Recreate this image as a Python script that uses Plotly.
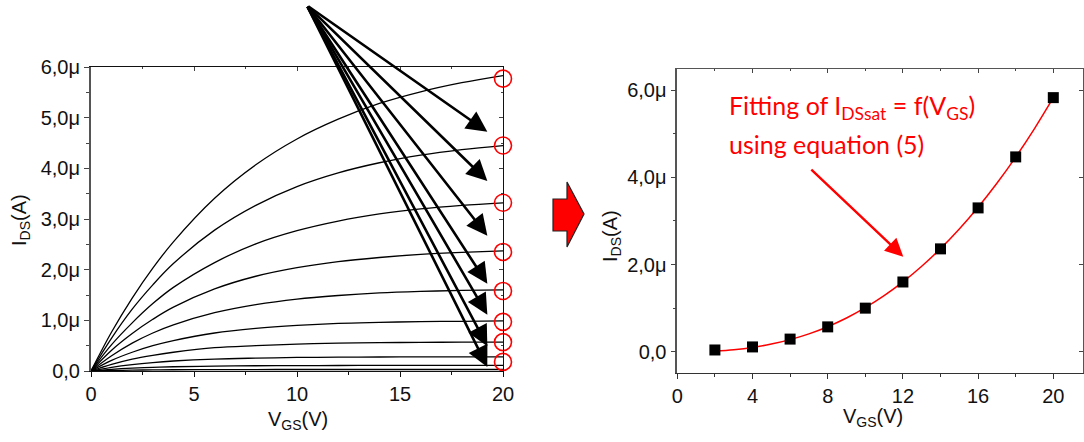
import plotly.graph_objects as go

# ---------------- data ----------------
# Left panel: output characteristics (I in µA) for 10 gate voltages
v_ds = [0, 1, 2, 3, 4, 6, 8, 10, 12, 14, 16, 18, 20]
curve_1 = [0, 0.77, 1.44, 2.03, 2.55, 3.41, 4.07, 4.58, 4.97, 5.28, 5.51, 5.69, 5.83]
curve_2 = [0, 0.65, 1.22, 1.70, 2.12, 2.78, 3.27, 3.64, 3.91, 4.11, 4.26, 4.37, 4.45]
curve_3 = [0, 0.52, 0.95, 1.33, 1.65, 2.14, 2.51, 2.77, 2.96, 3.10, 3.20, 3.27, 3.32]
curve_4 = [0, 0.41, 0.74, 1.02, 1.26, 1.62, 1.87, 2.04, 2.16, 2.24, 2.30, 2.34, 2.37]
curve_5 = [0, 0.30, 0.55, 0.75, 0.91, 1.15, 1.31, 1.42, 1.49, 1.54, 1.57, 1.59, 1.60]
curve_6 = [0, 0.21, 0.37, 0.50, 0.60, 0.75, 0.84, 0.90, 0.94, 0.96, 0.975, 0.98, 0.99]
curve_7 = [0, 0.13, 0.235, 0.31, 0.37, 0.46, 0.50, 0.53, 0.55, 0.56, 0.565, 0.57, 0.57]
curve_8 = [0, 0.073, 0.127, 0.167, 0.197, 0.235, 0.254, 0.267, 0.273, 0.276, 0.278, 0.279, 0.28]
curve_9 = [0, 0.033, 0.056, 0.072, 0.084, 0.097, 0.104, 0.107, 0.109, 0.11, 0.11, 0.11, 0.11]
curve_10 = [0, 0.010, 0.017, 0.022, 0.025, 0.028, 0.029, 0.03, 0.03, 0.03, 0.03, 0.03, 0.03]
curves = [curve_1, curve_2, curve_3, curve_4, curve_5, curve_6, curve_7, curve_8, curve_9, curve_10]

# saturation points highlighted by red circles
circle_x = [20, 20, 20, 20, 20, 20, 20, 20]
circle_y = [5.77, 4.45, 3.32, 2.35, 1.58, 0.97, 0.57, 0.18]

# black arrows (tail common, tips near the right axis)
arrow_tail = (10.47, 7.22)
arrow_tip_x = 19.24
arrow_tip_y = [6.03, 4.72, 3.75, 2.67, 1.72, 1.11, 0.49, 0.08]

# Right panel: I_DSsat vs V_GS
v_gs = [2, 4, 6, 8, 10, 12, 14, 16, 18, 20]
i_dssat = [0.04, 0.11, 0.29, 0.57, 1.00, 1.60, 2.36, 3.30, 4.47, 5.83]
fit_v = [2, 3, 4, 5, 6, 7, 8, 9, 10, 11, 12, 13, 14, 15, 16, 17, 18, 19, 20]
fit_i = [0.017, 0.048, 0.099, 0.175, 0.277, 0.409, 0.574, 0.773, 1.010, 1.285, 1.601,
         1.961, 2.365, 2.816, 3.315, 3.865, 4.466, 5.121, 5.83]

left_x_ticks = [0, 5, 10, 15, 20]
left_y_ticks = [0, 1, 2, 3, 4, 5, 6]
left_y_text = ["0,0", "1,0μ", "2,0μ", "3,0μ", "4,0μ", "5,0μ", "6,0μ"]
right_x_ticks = [0, 4, 8, 12, 16, 20]
right_y_ticks = [0, 2, 4, 6]
right_y_text = ["0,0", "2,0μ", "4,0μ", "6,0μ"]

# ---------------- figure ----------------
W, H = 1084, 442
FONT = "Liberation Sans"


def px(x):
    return x / W


def py(y):
    return 1 - y / H


fig = go.Figure()

for c in curves:
    fig.add_trace(go.Scatter(x=v_ds, y=c, mode="lines", xaxis="x", yaxis="y",
                             line=dict(color="black", width=1.3, shape="spline"),
                             showlegend=False, hoverinfo="skip"))

fig.add_trace(go.Scatter(x=circle_x, y=circle_y, mode="markers", xaxis="x", yaxis="y",
                         marker=dict(symbol="circle-open", size=17, color="red",
                                     line=dict(width=1.6, color="red")),
                         cliponaxis=False, showlegend=False))

# dummy traces for frame (top/right) axes
fig.add_trace(go.Scatter(x=[None], y=[None], xaxis="x3", yaxis="y3", showlegend=False))
fig.add_trace(go.Scatter(x=[None], y=[None], xaxis="x4", yaxis="y4", showlegend=False))

fig.add_trace(go.Scatter(x=fit_v, y=fit_i, mode="lines", xaxis="x2", yaxis="y2",
                         line=dict(color="red", width=1.5, shape="spline"),
                         showlegend=False))
fig.add_trace(go.Scatter(x=v_gs, y=i_dssat, mode="markers", xaxis="x2", yaxis="y2",
                         marker=dict(symbol="square", size=11, color="black"),
                         cliponaxis=False, showlegend=False))

tickfont = dict(family=FONT, size=20, color="#111")

dom_x1 = [px(91), px(503)]
dom_y1 = [py(371), py(67)]
dom_x2 = [px(677.3), px(1083)]
dom_y2 = [py(373.3), py(69.3)]

fig.update_layout(
    template="none",
    width=W, height=H,
    margin=dict(l=0, r=0, t=0, b=0),
    paper_bgcolor="white", plot_bgcolor="rgba(0,0,0,0)",
    showlegend=False,
    xaxis=dict(domain=dom_x1, anchor="y", range=[0, 20], tickvals=left_x_ticks,
               ticks="outside", ticklen=5, tickwidth=1.2, tickcolor="#111",
               minor=dict(dtick=2.5, tick0=0, ticks="outside", ticklen=3, tickcolor="#111"),
               showline=True, linecolor="#111", linewidth=1.3, showgrid=False,
               zeroline=False, tickfont=tickfont, automargin=False),
    yaxis=dict(domain=dom_y1, anchor="x", range=[0, 6], tickvals=left_y_ticks,
               ticktext=left_y_text, ticks="outside", ticklen=5, tickwidth=1.2,
               tickcolor="#444",
               minor=dict(dtick=0.5, tick0=0, ticks="outside", ticklen=3, tickcolor="#444"),
               showline=True, linecolor="#555", linewidth=2, showgrid=False,
               zeroline=False, tickfont=tickfont, automargin=False),
    xaxis3=dict(overlaying="x", side="top", anchor="y", range=[0, 20],
                tickvals=left_x_ticks, ticks="inside", ticklen=4, showticklabels=False,
                minor=dict(dtick=2.5, tick0=0, ticks="inside", ticklen=2),
                showline=True, linecolor="#111", linewidth=1, showgrid=False,
                zeroline=False, automargin=False),
    yaxis3=dict(overlaying="y", side="right", anchor="x", range=[0, 6],
                tickvals=left_y_ticks, ticks="inside", ticklen=4, showticklabels=False,
                minor=dict(dtick=0.5, tick0=0, ticks="inside", ticklen=2),
                showline=True, linecolor="#111", linewidth=1, showgrid=False,
                zeroline=False, automargin=False),
    xaxis2=dict(domain=dom_x2, anchor="y2", range=[0, 21.58], tickvals=right_x_ticks,
                ticks="outside", ticklen=5, tickwidth=1.2, tickcolor="#333",
                minor=dict(dtick=2, tick0=0, ticks="outside", ticklen=3, tickcolor="#333"),
                showline=True, linecolor="#333", linewidth=1.3, showgrid=False,
                zeroline=False, tickfont=tickfont, automargin=False),
    yaxis2=dict(domain=dom_y2, anchor="x2", range=[-0.495, 6.48], tickvals=right_y_ticks,
                ticktext=right_y_text, ticks="outside", ticklen=5, tickwidth=1.2,
                tickcolor="#444",
                minor=dict(dtick=1, tick0=0, ticks="outside", ticklen=3, tickcolor="#444"),
                showline=True, linecolor="#555", linewidth=1.6, showgrid=False,
                zeroline=False, tickfont=tickfont, automargin=False),
    xaxis4=dict(overlaying="x2", side="top", anchor="y2", range=[0, 21.58],
                tickvals=right_x_ticks, ticks="inside", ticklen=4, showticklabels=False,
                minor=dict(dtick=2, tick0=0, ticks="inside", ticklen=2),
                showline=True, linecolor="#555", linewidth=1, showgrid=False,
                zeroline=False, automargin=False),
    yaxis4=dict(overlaying="y2", side="right", anchor="x2", range=[-0.495, 6.48],
                tickvals=right_y_ticks, ticks="inside", ticklen=4, showticklabels=False,
                showline=True, linecolor="#555", linewidth=1, showgrid=False,
                zeroline=False, automargin=False),
)

ann = []
for ty in arrow_tip_y:
    ann.append(dict(x=arrow_tip_x, y=ty, ax=arrow_tail[0], ay=arrow_tail[1],
                    xref="x", yref="y", axref="x", ayref="y", text="",
                    showarrow=True, arrowhead=2, arrowsize=1.6, arrowwidth=2.6,
                    arrowcolor="black"))

# red arrow in right panel
ann.append(dict(x=12.02, y=2.18, ax=7.05, ay=4.21, xref="x2", yref="y2",
                axref="x2", ayref="y2", text="", showarrow=True, arrowhead=2,
                arrowsize=1.5, arrowwidth=2.4, arrowcolor="red"))

redfont = dict(family="Lato", size=25, color="red")
ann.append(dict(x=px(727), y=py(88), xref="paper", yref="paper", xanchor="left",
                yanchor="top", showarrow=False, font=redfont,
                text="Fitting of I<sub>DSsat</sub> = f(V<sub>GS</sub>)"))
ann.append(dict(x=px(727), y=py(127), xref="paper", yref="paper", xanchor="left",
                yanchor="top", showarrow=False, font=redfont,
                text="using equation (5)"))

titlefont = dict(family=FONT, size=20, color="#111")
ann.append(dict(x=px(298), y=py(420), xref="paper", yref="paper", showarrow=False,
                text="V<sub>GS</sub>(V)", font=titlefont, xanchor="center", yanchor="middle"))
ann.append(dict(x=px(873), y=py(417), xref="paper", yref="paper", showarrow=False,
                text="V<sub>GS</sub>(V)", font=titlefont, xanchor="center", yanchor="middle"))
ann.append(dict(x=px(20), y=py(220), xref="paper", yref="paper", showarrow=False,
                text="I<sub>DS</sub>(A)", font=titlefont, textangle=-90,
                xanchor="center", yanchor="middle"))
ann.append(dict(x=px(611), y=py(236), xref="paper", yref="paper", showarrow=False,
                text="I<sub>DS</sub>(A)", font=titlefont, textangle=-90,
                xanchor="center", yanchor="middle"))

fig.update_layout(annotations=ann)

# big red block arrow between panels
pts = [(553, 199), (567, 199), (567, 182), (584, 214), (567, 247), (567, 231), (553, 231)]
path = "M " + " L ".join(f"{px(a):.5f},{py(b):.5f}" for a, b in pts) + " Z"
fig.add_shape(type="path", path=path, xref="paper", yref="paper",
              fillcolor="red", line=dict(color="#222", width=1.2))

fig.write_html("out.html", config={"displayModeBar": False},
               post_script="document.body.style.margin='0';document.body.style.overflow='hidden';")
